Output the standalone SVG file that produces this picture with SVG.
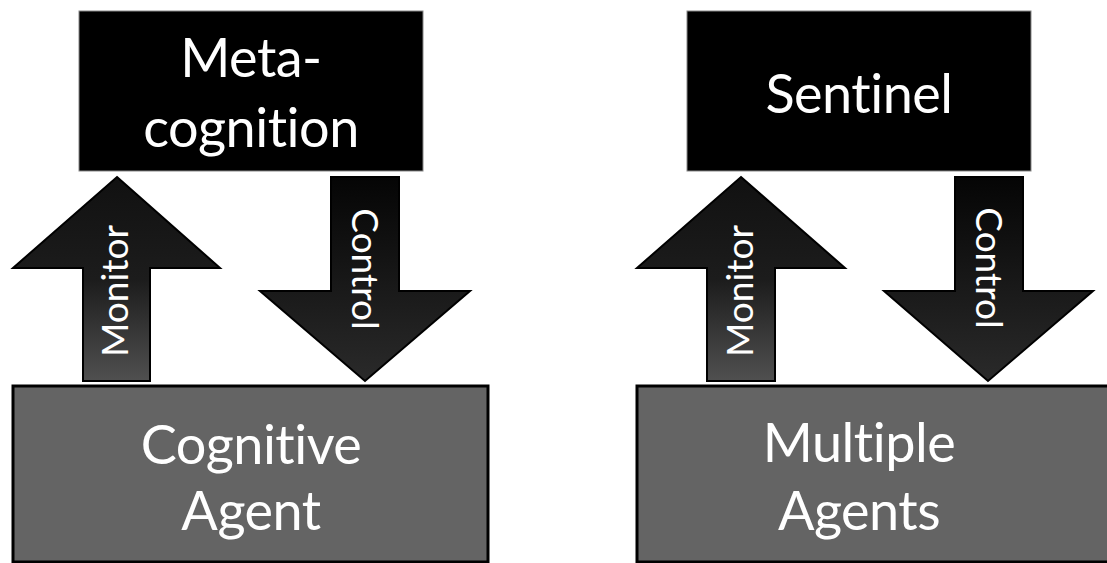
<svg xmlns="http://www.w3.org/2000/svg" width="1107" height="563" viewBox="0 0 1107 563">
  <defs>
    <linearGradient id="gUp" x1="0" y1="0" x2="0" y2="1">
      <stop offset="0" stop-color="#111"/>
      <stop offset="0.5" stop-color="#1c1c1c"/>
      <stop offset="1" stop-color="#505050"/>
    </linearGradient>
    <linearGradient id="gDown" x1="0" y1="0" x2="0" y2="1">
      <stop offset="0" stop-color="#050505"/>
      <stop offset="1" stop-color="#2a2a2a"/>
    </linearGradient>
  </defs>
  <style>
    .top { fill: #000; stroke: #888; stroke-width: 1; }
    .base { fill: #646464; stroke: #000; stroke-width: 3; }
    .up { fill: url(#gUp); stroke: #000; stroke-width: 2; stroke-linejoin: miter; }
    .down { fill: url(#gDown); stroke: #000; stroke-width: 2; stroke-linejoin: miter; }
    text { font-family: "Lato", "Open Sans", sans-serif; fill: #fff; text-anchor: middle; font-variant-ligatures: none; }
    .big { font-size: 54px; letter-spacing: -0.5px; }
    .lbl { font-size: 37px; }
  </style>
  <rect width="1107" height="563" fill="#fff"/>

  <g id="metacognition">
    <rect class="top" x="79" y="11" width="344" height="160"/>
    <text class="big" x="251" y="77">Meta-</text>
    <text class="big" x="251" y="147">cognition</text>
  </g>

  <g id="cognitive-agent">
    <rect class="base" x="13" y="386" width="475" height="176"/>
    <text class="big" x="251" y="464">Cognitive</text>
    <text class="big" x="251" y="530">Agent</text>
  </g>

  <g id="sentinel">
    <rect class="top" x="687" y="11" width="344" height="160"/>
    <text class="big" x="859" y="113">Sentinel</text>
  </g>

  <g id="multiple-agents">
    <rect class="base" x="637" y="386" width="480" height="176"/>
    <text class="big" x="859" y="462">Multiple</text>
    <text class="big" x="859" y="530">Agents</text>
  </g>

  <g id="connectors">
    <!-- left pair -->
    <path class="up" d="M117 177 L220 268 L150 268 L150 381 L83 381 L83 268 L13 268 Z"/>
    <text class="lbl" transform="translate(128 291) rotate(-90)">Monitor</text>
    <path class="down" d="M331 177 L399 177 L399 291 L470 291 L365 381 L260 291 L331 291 Z"/>
    <text class="lbl" transform="translate(352 269) rotate(90)">Control</text>
    <!-- right pair -->
    <path class="up" d="M741 177 L845 268 L775 268 L775 381 L707 381 L707 268 L637 268 Z"/>
    <text class="lbl" transform="translate(753 291) rotate(-90)">Monitor</text>
    <path class="down" d="M955 177 L1023 177 L1023 291 L1093 291 L988 381 L884 291 L955 291 Z"/>
    <text class="lbl" transform="translate(976 268) rotate(90)">Control</text>
  </g>
</svg>
